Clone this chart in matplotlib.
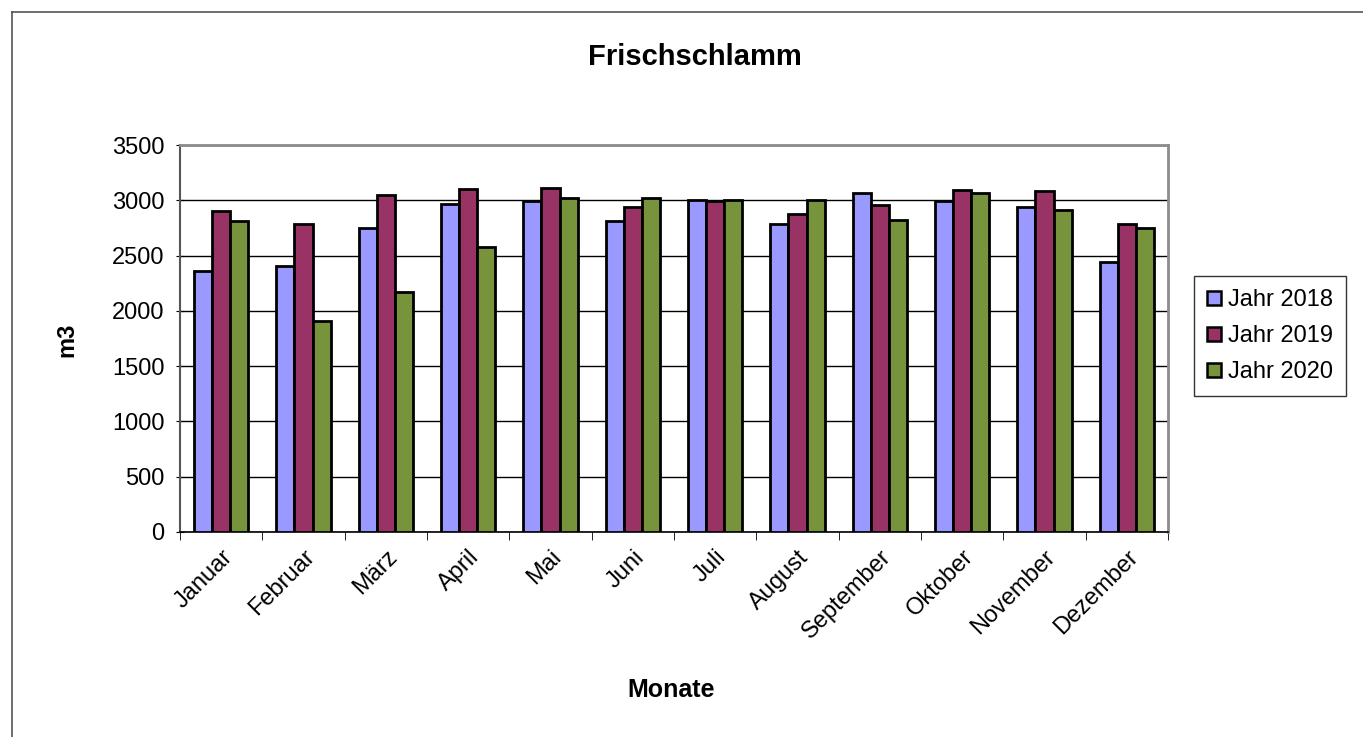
import matplotlib

matplotlib.use("Agg")
import matplotlib.pyplot as plt
import numpy as np
from matplotlib.lines import Line2D

plt.rcParams["font.family"] = ["Liberation Sans", "DejaVu Sans"]

months = ["Januar", "Februar", "März", "April", "Mai", "Juni", "Juli",
          "August", "September", "Oktober", "November", "Dezember"]
series_names = ["Jahr 2018", "Jahr 2019", "Jahr 2020"]
jahr_2018 = [2360, 2410, 2750, 2970, 2990, 2810, 3005, 2790, 3065, 2990, 2935, 2445]
jahr_2019 = [2900, 2790, 3045, 3100, 3115, 2935, 2990, 2880, 2955, 3095, 3080, 2790]
jahr_2020 = [2810, 1905, 2175, 2575, 3025, 3025, 3005, 3005, 2825, 3065, 2915, 2750]
colors = ["#9999FF", "#993366", "#77933C"]

W, H = 1363, 737
fig = plt.figure(figsize=(W / 100, H / 100), dpi=100)
ax = fig.add_axes([180 / W, 1 - 532 / H, (1168 - 180) / W, (532 - 145) / H])

x = np.arange(len(months))
bw = 0.22
for i, (vals, name, col) in enumerate(zip([jahr_2018, jahr_2019, jahr_2020], series_names, colors)):
    ax.bar(x + (i - 1) * bw, vals, width=bw, color=col, edgecolor="black",
           linewidth=2.0, label=name, zorder=3)

ax.set_xlim(-0.5, len(months) - 0.5)
ax.set_ylim(0, 3500)
ax.set_yticks(range(0, 3501, 500))
ax.yaxis.grid(True, color="black", linewidth=1.0, zorder=0)
ax.set_xticks(x)
ax.set_xticklabels(months, rotation=45, ha="right", va="top", rotation_mode="anchor",
                   fontsize=17)
ax.set_xticks(np.arange(-0.5, len(months)), minor=True)
ax.tick_params(axis="x", which="major", length=0, pad=10)
ax.tick_params(axis="x", which="minor", length=6, direction="out", color="black")
ax.tick_params(axis="y", labelsize=17, length=6, direction="inout", pad=8)

for side in ["top", "right"]:
    ax.spines[side].set_color("#8c8c8c")
    ax.spines[side].set_linewidth(2)
ax.spines["left"].set_color("#555555")
ax.spines["left"].set_linewidth(1.5)
ax.spines["bottom"].set_color("black")
ax.spines["bottom"].set_linewidth(1.2)

fig.text(695 / W, 1 - 57 / H, "Frischschlamm", ha="center", va="center",
         fontsize=21, fontweight="bold")
fig.text(671 / W, 1 - 690 / H, "Monate", ha="center", va="center",
         fontsize=18, fontweight="bold")
fig.text(67 / W, 1 - 340 / H, "m3", ha="center", va="center", rotation=90,
         fontsize=17, fontweight="bold")

handles = [Line2D([], [], marker="s", linestyle="none", markersize=10,
                  markerfacecolor=c, markeredgecolor="black", markeredgewidth=1.8)
           for c in colors]
leg = fig.legend(handles, series_names, loc="center left",
                 bbox_to_anchor=(1194 / W, 1 - 336 / H), fontsize=17,
                 frameon=True, fancybox=False, edgecolor="black",
                 handlelength=0.6, handletextpad=0.3, labelspacing=0.6,
                 borderpad=0.55, borderaxespad=0)
leg.get_frame().set_linewidth(1.0)

# outer chart border (left and top visible)
fig.add_artist(Line2D([12 / W, 12 / W], [0, 1 - 12 / H], transform=fig.transFigure,
                      color="#555555", linewidth=1.2))
fig.add_artist(Line2D([12 / W, 1], [1 - 12 / H, 1 - 12 / H], transform=fig.transFigure,
                      color="#555555", linewidth=1.2))

fig.savefig("out.png", dpi=100)
